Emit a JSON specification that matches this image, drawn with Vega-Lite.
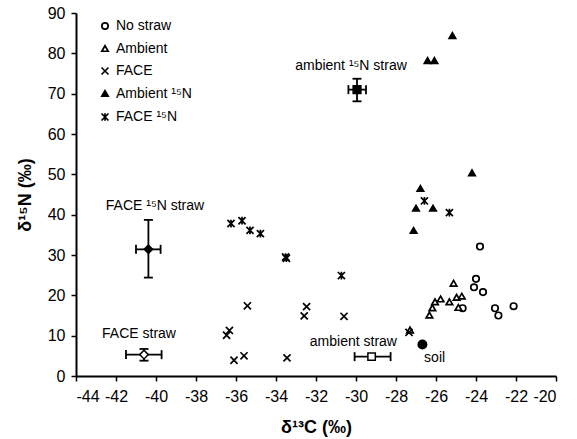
{
  "$schema": "https://vega.github.io/schema/vega-lite/v6.json",
  "width": 480,
  "height": 363,
  "autosize": {"type": "none"},
  "padding": {"left": 76, "top": 13, "right": 21, "bottom": 63},
  "background": "white",
  "config": {
    "view": {"stroke": null},
    "font": "Liberation Sans",
    "axis": {
      "grid": false,
      "domainColor": "black",
      "domainWidth": 2,
      "tickColor": "black",
      "tickWidth": 1.5,
      "tickSize": 5,
      "labelColor": "black",
      "labelFont": "Liberation Sans",
      "labelFontSize": 16,
      "titleColor": "black",
      "titleFont": "Liberation Sans",
      "titleFontSize": 18,
      "titleFontWeight": "bold"
    }
  },
  "datasets": {
    "pts": [
      {"series": "No straw", "c": -23.8, "n": 32.1},
      {"series": "No straw", "c": -24.0, "n": 24.1},
      {"series": "No straw", "c": -24.1, "n": 22.0},
      {"series": "No straw", "c": -23.65, "n": 20.8},
      {"series": "No straw", "c": -24.67, "n": 16.8},
      {"series": "No straw", "c": -23.05, "n": 16.8},
      {"series": "No straw", "c": -22.88, "n": 15.0},
      {"series": "No straw", "c": -22.12, "n": 17.3},
      {"series": "Ambient", "c": -25.12, "n": 23.0},
      {"series": "Ambient", "c": -25.77, "n": 19.1},
      {"series": "Ambient", "c": -26.05, "n": 18.4},
      {"series": "Ambient", "c": -25.33, "n": 18.4},
      {"series": "Ambient", "c": -24.97, "n": 19.5},
      {"series": "Ambient", "c": -24.71, "n": 19.8},
      {"series": "Ambient", "c": -26.18, "n": 16.9},
      {"series": "Ambient", "c": -26.33, "n": 15.1},
      {"series": "Ambient", "c": -24.88, "n": 17.0},
      {"series": "Ambient", "c": -27.3, "n": 11.4},
      {"series": "FACE", "c": -35.43, "n": 17.4},
      {"series": "FACE", "c": -36.33, "n": 11.3},
      {"series": "FACE", "c": -36.47, "n": 10.1},
      {"series": "FACE", "c": -36.1, "n": 3.9},
      {"series": "FACE", "c": -35.6, "n": 5.0},
      {"series": "FACE", "c": -33.45, "n": 4.5},
      {"series": "FACE", "c": -32.47, "n": 17.2},
      {"series": "FACE", "c": -32.59, "n": 14.9},
      {"series": "FACE", "c": -30.6, "n": 14.8},
      {"series": "FACE", "c": -27.35, "n": 10.8},
      {"series": "Ambient ¹⁵N", "c": -25.18, "n": 84.4},
      {"series": "Ambient ¹⁵N", "c": -26.42, "n": 78.2},
      {"series": "Ambient ¹⁵N", "c": -26.08, "n": 78.2},
      {"series": "Ambient ¹⁵N", "c": -24.2, "n": 50.4},
      {"series": "Ambient ¹⁵N", "c": -26.78, "n": 46.5},
      {"series": "Ambient ¹⁵N", "c": -27.0, "n": 41.6},
      {"series": "Ambient ¹⁵N", "c": -26.15, "n": 41.6},
      {"series": "Ambient ¹⁵N", "c": -27.12, "n": 36.1},
      {"series": "FACE ¹⁵N", "c": -36.25, "n": 37.8},
      {"series": "FACE ¹⁵N", "c": -35.7, "n": 38.5},
      {"series": "FACE ¹⁵N", "c": -35.3, "n": 36.1},
      {"series": "FACE ¹⁵N", "c": -34.78, "n": 35.3},
      {"series": "FACE ¹⁵N", "c": -33.52, "n": 29.5},
      {"series": "FACE ¹⁵N", "c": -33.48, "n": 29.2},
      {"series": "FACE ¹⁵N", "c": -30.73, "n": 24.9},
      {"series": "FACE ¹⁵N", "c": -26.58, "n": 43.4},
      {"series": "FACE ¹⁵N", "c": -25.33, "n": 40.5}
    ],
    "straw": [
      {"name": "ambient ¹⁵N straw", "c": -29.95, "n": 71.0, "clo": -30.38, "chi": -29.5, "nlo": 68.1, "nhi": 73.7},
      {"name": "FACE ¹⁵N straw", "c": -40.38, "n": 31.4, "clo": -41.0, "chi": -39.77, "nlo": 24.4, "nhi": 38.7},
      {"name": "FACE straw", "c": -40.6, "n": 5.3, "clo": -41.5, "chi": -39.72, "nlo": 3.8, "nhi": 6.7},
      {"name": "ambient straw", "c": -29.22, "n": 4.8, "clo": -30.07, "chi": -28.27, "nlo": null, "nhi": null},
      {"name": "soil", "c": -26.68, "n": 7.8, "clo": null, "chi": null, "nlo": null, "nhi": null}
    ],
    "labels": [
      {"text": "ambient ¹⁵N straw", "c": -30.25, "n": 76.8},
      {"text": "FACE ¹⁵N straw", "c": -40.05, "n": 42.2},
      {"text": "FACE straw", "c": -40.85, "n": 10.3},
      {"text": "ambient straw", "c": -30.13, "n": 8.4},
      {"text": "soil", "c": -26.07, "n": 4.5}
    ]
  },
  "encoding": {
    "x": {
      "field": "c", "type": "quantitative",
      "scale": {"domain": [-44, -20], "nice": false, "zero": false},
      "axis": {"values": [-44, -42, -40, -38, -36, -34, -32, -30, -28, -26, -24, -22, -20], "title": "δ¹³C (‰)", "labelPadding": 7, "titlePadding": 14, "labelExpr": "replace(datum.label, '−', '-')"}
    },
    "y": {
      "field": "n", "type": "quantitative",
      "scale": {"domain": [0, 90], "nice": false},
      "axis": {"values": [0, 10, 20, 30, 40, 50, 60, 70, 80, 90], "title": "δ¹⁵N (‰)", "labelPadding": 6, "titlePadding": 13}
    }
  },
  "layer": [
    {
      "data": {"name": "straw"},
      "mark": {"type": "rule", "color": "black", "strokeWidth": 1.8},
      "encoding": {"x": {"field": "clo", "type": "quantitative"}, "x2": {"field": "chi"}}
    },
    {
      "data": {"name": "straw"},
      "mark": {"type": "rule", "color": "black", "strokeWidth": 1.8},
      "encoding": {"y": {"field": "nlo", "type": "quantitative"}, "y2": {"field": "nhi"}}
    },
    {
      "data": {"name": "straw"},
      "mark": {"type": "tick", "orient": "vertical", "color": "black", "size": 9, "thickness": 1.8, "opacity": 1},
      "encoding": {"x": {"field": "clo", "type": "quantitative"}}
    },
    {
      "data": {"name": "straw"},
      "mark": {"type": "tick", "orient": "vertical", "color": "black", "size": 9, "thickness": 1.8, "opacity": 1},
      "encoding": {"x": {"field": "chi", "type": "quantitative"}}
    },
    {
      "data": {"name": "straw"},
      "mark": {"type": "tick", "orient": "horizontal", "color": "black", "size": 9, "thickness": 1.8, "opacity": 1},
      "encoding": {"y": {"field": "nlo", "type": "quantitative"}}
    },
    {
      "data": {"name": "straw"},
      "mark": {"type": "tick", "orient": "horizontal", "color": "black", "size": 9, "thickness": 1.8, "opacity": 1},
      "encoding": {"y": {"field": "nhi", "type": "quantitative"}}
    },
    {
      "data": {"name": "straw"},
      "transform": [{"filter": "datum.name === 'ambient ¹⁵N straw'"}],
      "mark": {"type": "point", "shape": "square", "filled": true, "color": "black", "size": 85, "opacity": 1}
    },
    {
      "data": {"name": "straw"},
      "transform": [{"filter": "datum.name === 'FACE ¹⁵N straw'"}],
      "mark": {"type": "point", "shape": "diamond", "filled": true, "color": "black", "size": 110, "opacity": 1}
    },
    {
      "data": {"name": "straw"},
      "transform": [{"filter": "datum.name === 'FACE straw'"}],
      "mark": {"type": "point", "shape": "diamond", "fill": "white", "stroke": "black", "strokeWidth": 1.5, "size": 75, "opacity": 1}
    },
    {
      "data": {"name": "straw"},
      "transform": [{"filter": "datum.name === 'ambient straw'"}],
      "mark": {"type": "point", "shape": "square", "fill": "white", "stroke": "black", "strokeWidth": 1.5, "size": 55, "opacity": 1}
    },
    {
      "data": {"name": "straw"},
      "transform": [{"filter": "datum.name === 'soil'"}],
      "mark": {"type": "point", "shape": "circle", "filled": true, "color": "black", "size": 100, "opacity": 1}
    },
    {
      "data": {"name": "pts"},
      "mark": {"type": "point", "strokeWidth": 1.7, "size": 42, "opacity": 1},
      "encoding": {
        "shape": {"field": "series", "type": "nominal",
          "scale": {"domain": ["No straw", "Ambient", "FACE", "Ambient ¹⁵N", "FACE ¹⁵N"],
                    "range": ["circle", "triangle-up", "M-1.1,-1.1L1.1,1.1M-1.1,1.1L1.1,-1.1", "triangle-up", "M-1.1,-1.1L1.1,1.1M-1.1,1.1L1.1,-1.1M0,-1.2L0,1.2"]},
          "legend": {"title": null, "orient": "none", "legendX": 22, "legendY": 6, "padding": 0, "rowPadding": 8.5,
                     "labelFont": "Liberation Sans", "labelFontSize": 14, "labelColor": "black", "labelOffset": 4,
                     "symbolSize": 40, "symbolStrokeWidth": 1.7}},
        "stroke": {"field": "series", "type": "nominal",
          "scale": {"domain": ["No straw", "Ambient", "FACE", "Ambient ¹⁵N", "FACE ¹⁵N"],
                    "range": ["black", "black", "black", "black", "black"]},
          "legend": {"title": null, "orient": "none", "legendX": 22, "legendY": 6, "padding": 0, "rowPadding": 8.5,
                     "labelFont": "Liberation Sans", "labelFontSize": 14, "labelColor": "black", "labelOffset": 4,
                     "symbolSize": 40, "symbolStrokeWidth": 1.7}},
        "fill": {"field": "series", "type": "nominal",
          "scale": {"domain": ["No straw", "Ambient", "FACE", "Ambient ¹⁵N", "FACE ¹⁵N"],
                    "range": ["white", "white", "transparent", "black", "black"]},
          "legend": {"title": null, "orient": "none", "legendX": 22, "legendY": 6, "padding": 0, "rowPadding": 8.5,
                     "labelFont": "Liberation Sans", "labelFontSize": 14, "labelColor": "black", "labelOffset": 4,
                     "symbolSize": 40, "symbolStrokeWidth": 1.7}}
      }
    },
    {
      "data": {"name": "labels"},
      "mark": {"type": "text", "font": "Liberation Sans", "fontSize": 14, "color": "black", "align": "center", "baseline": "middle"},
      "encoding": {"text": {"field": "text"}}
    }
  ]
}
